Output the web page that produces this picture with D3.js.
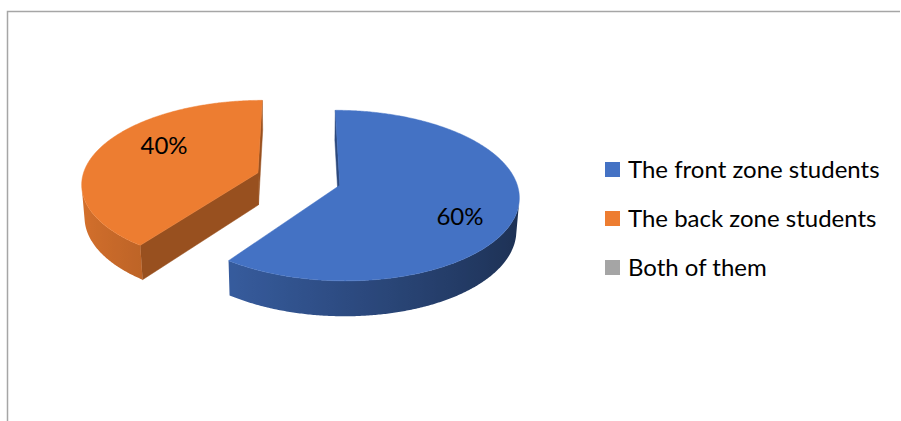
<!DOCTYPE html>
<html>
<head>
<meta charset="utf-8">
<script src="https://cdn.jsdelivr.net/npm/d3@7"></script>
<style>
  body { margin: 0; background: #fff; }
  svg { display: block; }
  text { font-family: Lato, "Open Sans", sans-serif; fill: #000; }
</style>
</head>
<body>
<script>
// Survey answers
const categories = ["The front zone students", "The back zone students", "Both of them"];
const shares = [60, 40, 0];
const colors = ["#4472C4", "#ED7D31", "#A5A5A5"];

const W = 901, H = 421;
const svg = d3.select("body").append("svg").attr("width", W).attr("height", H);
const defs = svg.append("defs");

// chart frame (left and top edges)
svg.append("path")
  .attr("d", "M7.5,421V11.5H900")
  .attr("fill", "none")
  .attr("stroke", "#A6A6A6")
  .attr("stroke-width", 1.5);

// ---- 3D pie geometry ----
const cx = 298.5, cy = 179;      // screen position of the pie centre
const R = 176;                   // radius
const T = 37;                    // thickness
const explode = 43;              // slice explosion distance
const phi = Math.asin(0.469);    // viewing elevation
const dist = 1300;               // camera distance (perspective)
const sinP = Math.sin(phi), cosP = Math.cos(phi);
const cam = [0, dist * cosP, dist * sinP];

// world: x right, f toward viewer, u up
function project([x, f, u]) {
  const d = f * cosP + u * sinP;
  const s = dist / (dist - d);
  return [cx + x * s, cy + (f * sinP - u * cosP) * s];
}

const pie = d3.pie().sort(null).value(d => d).startAngle(0).endAngle(2 * Math.PI);
const arcs = pie(shares).map((a, i) => ({ ...a, i }));

const line = d3.line();

function shade(color, k) {
  return d3.interpolateRgb("#000", color)(k);
}

// side lighting: light coming from the left
const sideShade = d3.scaleLinear().domain([-1, 1]).range([0.9, 0.42]);
const cutShade = 0.64;

const slices = arcs.filter(a => a.value > 0).map(a => {
  const m = (a.startAngle + a.endAngle) / 2;
  const off = [explode * Math.sin(m), -explode * Math.cos(m)];
  return { ...a, m, off };
}).sort((p, q) => p.off[1] - q.off[1]);

const pieG = svg.append("g");

slices.forEach(sl => {
  const g = pieG.append("g");
  const col = colors[sl.i];
  const pt = (th, rho, u) => [sl.off[0] + rho * Math.sin(th), sl.off[1] - rho * Math.cos(th), u];
  const visible = (P, n) => (cam[0] - P[0]) * n[0] + (cam[1] - P[1]) * n[1] + (cam[2] - P[2]) * n[2] > 0;

  // radial cut faces
  [[sl.startAngle, sl.startAngle - Math.PI / 2], [sl.endAngle, sl.endAngle + Math.PI / 2]].forEach(([a, na]) => {
    const n = [Math.sin(na), -Math.cos(na), 0];
    const P = pt(a, R / 2, -T / 2);
    if (!visible(P, n)) return;
    const poly = [pt(a, 0, 0), pt(a, R, 0), pt(a, R, -T), pt(a, 0, -T)].map(project);
    const c = shade(col, cutShade);
    g.append("path").attr("d", line(poly) + "Z").attr("fill", c).attr("stroke", c).attr("stroke-width", 0.5);
  });

  // outer curved side: the visible stretch as one band with a horizontal gradient
  const steps = Math.ceil((sl.endAngle - sl.startAngle) / (Math.PI / 360));
  const da = (sl.endAngle - sl.startAngle) / steps;
  const vis = [];
  for (let k = 0; k <= steps; k++) {
    const a = sl.startAngle + k * da;
    const n = [Math.sin(a), -Math.cos(a), 0];
    if (visible(pt(a, R, -T / 2), n)) vis.push(a);
  }
  if (vis.length > 1) {
    const topPts = vis.map(a => project(pt(a, R, 0)));
    const botPts = vis.map(a => project(pt(a, R, -T))).reverse();
    const xs = topPts.map(p => p[0]);
    const x0 = d3.min(xs), x1 = d3.max(xs);
    const gid = `side-${sl.i}`;
    const grad = defs.append("linearGradient").attr("id", gid)
      .attr("gradientUnits", "userSpaceOnUse")
      .attr("x1", x0).attr("x2", x1).attr("y1", 0).attr("y2", 0);
    const stops = vis.map((a, k) => ({ o: (topPts[k][0] - x0) / (x1 - x0 || 1), c: shade(col, sideShade(Math.sin(a))) }))
      .sort((p, q) => p.o - q.o);
    grad.selectAll("stop").data(stops.filter((s, k) => k % 4 === 0 || k === stops.length - 1)).join("stop")
      .attr("offset", s => s.o).attr("stop-color", s => s.c);
    g.append("path").attr("d", line(topPts.concat(botPts)) + "Z").attr("fill", `url(#${gid})`);
  }

  // top face
  const top = [pt(0, 0, 0)];
  for (let k = 0; k <= steps; k++) top.push(pt(sl.startAngle + k * da, R, 0));
  g.append("path").attr("d", line(top.map(project)) + "Z").attr("fill", col).attr("stroke", col).attr("stroke-width", 0.5);

  // data label
  const la = sl.m + 12 * Math.PI / 180;
  const [lx, ly] = project(pt(la, 0.7 * R, 0));
  g.append("text")
    .attr("x", lx + 6)
    .attr("y", ly + 0.36 * 24)
    .attr("text-anchor", "middle")
    .attr("font-size", 24)
    .text(`${sl.value}%`);
});

// ---- legend ----
const legend = svg.append("g").attr("transform", "translate(605,162)");
const rows = legend.selectAll("g").data(categories).join("g")
  .attr("transform", (d, i) => `translate(0,${i * 49})`);
rows.append("rect").attr("width", 15).attr("height", 15).attr("fill", (d, i) => colors[i]);
rows.append("text").attr("x", 23).attr("y", 16).attr("font-size", 24).text(d => d);
</script>
</body>
</html>
